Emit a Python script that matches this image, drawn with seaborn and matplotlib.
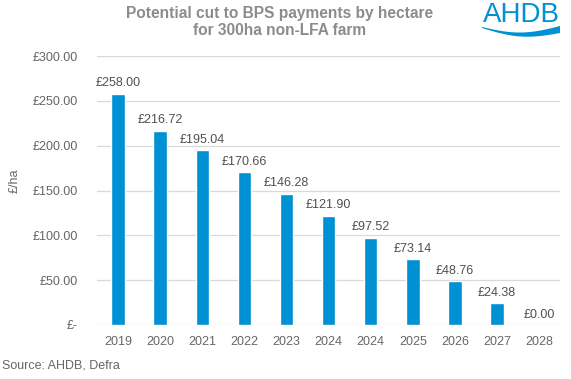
import matplotlib
matplotlib.use("Agg")
import matplotlib.pyplot as plt
import numpy as np
import pandas as pd
import seaborn as sns

years = ["2019", "2020", "2021", "2022", "2023", "2024", "2024", "2025", "2026", "2027", "2028"]
payments = [258.00, 216.72, 195.04, 170.66, 146.28, 121.90, 97.52, 73.14, 48.76, 24.38, 0.00]
y_ticks = [0, 50, 100, 150, 200, 250, 300]
y_tick_labels = ["£-", "£50.00", "£100.00", "£150.00", "£200.00", "£250.00", "£300.00"]

sns.set_theme(style="white")
plt.rcParams["font.family"] = ["Liberation Sans", "DejaVu Sans"]

df = pd.DataFrame({"pos": [str(i) for i in range(len(years))], "payment": payments})

W, H = 571, 379
fig = plt.figure(figsize=(W / 100, H / 100), dpi=100)
ax = fig.add_axes([0.170, 0.1425, 0.811, 0.7095])

sns.barplot(data=df, x="pos", y="payment", color="#0090D4", saturation=1,
            width=0.32, ax=ax)

ax.set_ylim(0, 300)
ax.set_yticks(y_ticks)
ax.set_yticklabels(y_tick_labels)
ax.set_xticks(range(len(years)))
ax.set_xticklabels(years)
ax.tick_params(axis="both", colors="#666666", labelsize=9, length=0)
ax.tick_params(axis="y", pad=14)
ax.tick_params(axis="x", pad=8)
ax.yaxis.grid(True, color="#D9D9D9", linewidth=0.9)
ax.set_axisbelow(True)
for s in ax.spines.values():
    s.set_visible(False)
ax.set_xlabel("")
ax.set_ylabel("£/ha", color="#666666", fontsize=9)
ax.yaxis.set_label_coords(-0.164, 0.535)

for i, v in enumerate(payments):
    ax.text(i, v + 5, f"£{v:.2f}", ha="center", va="bottom",
            fontsize=9, color="#505050")

fig.text(0.49, 0.985, "Potential cut to BPS payments by hectare\nfor 300ha non-LFA farm",
         ha="center", va="top", fontsize=11.2, fontweight="bold", color="#8C8C8C",
         linespacing=1.2)

fig.text(0.004, 0.035, "Source: AHDB, Defra", ha="left", va="center",
         fontsize=9, color="#666666")

# logo: text plus swoosh underneath
fig.text(521 / W, 1 - 14.5 / H, "AHDB", ha="center", va="center", fontsize=20,
         color="#0090D4")
t = np.linspace(0, 1, 80)
px = 482 + 78 * t
top = 27 + 6 * np.sin(np.pi * t) - 1 * t
bot = top + 1 + 6 * t
poly = np.column_stack([np.r_[px, px[::-1]] / W, 1 - np.r_[top, bot[::-1]] / H])
fig.patches.append(plt.Polygon(poly, closed=True, transform=fig.transFigure,
                               color="#0090D4", linewidth=0))

fig.savefig("out.png", dpi=100)
